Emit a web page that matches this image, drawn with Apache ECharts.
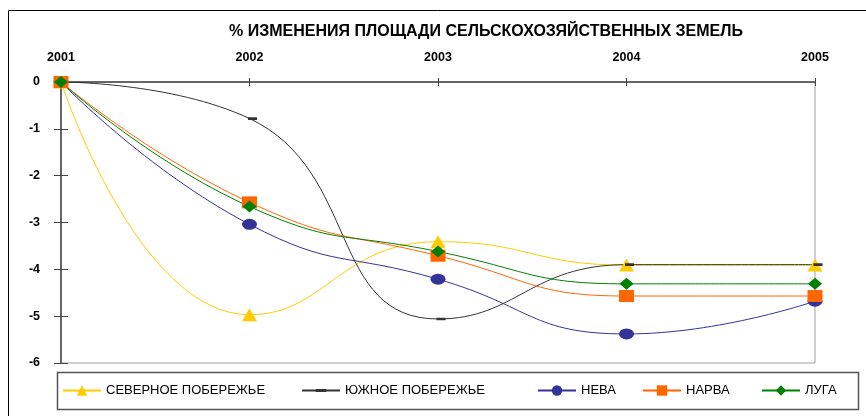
<!DOCTYPE html>
<html><head><meta charset="utf-8">
<script src="https://cdn.jsdelivr.net/npm/echarts@6/dist/echarts.min.js"></script>
<style>html,body{margin:0;padding:0;background:#fff}#c{width:866px;height:416px}</style>
</head><body><div id="c"></div>
<script>
const titleText = '% ИЗМЕНЕНИЯ ПЛОЩАДИ СЕЛЬСКОХОЗЯЙСТВЕННЫХ ЗЕМЕЛЬ';
const years = ['2001', '2002', '2003', '2004', '2005'];
const seriesNames = ['СЕВЕРНОЕ ПОБЕРЕЖЬЕ', 'ЮЖНОЕ ПОБЕРЕЖЬЕ', 'НЕВА', 'НАРВА', 'ЛУГА'];
const severnoe = [0, -4.97, -3.41, -3.91, -3.91];
const yuzhnoe = [0, -0.78, -5.06, -3.9, -3.9];
const neva = [0, -3.04, -4.21, -5.38, -4.68];
const narva = [0, -2.57, -3.71, -4.57, -4.57];
const luga = [0, -2.66, -3.62, -4.31, -4.31];
const yMin = -6, yMax = 0, yStep = 1;

const FONT = 'Liberation Sans, Arial, sans-serif';
const colors = ['#FFCC00', '#333333', '#333399', '#FF6600', '#008000'];
// dash marker: square bounding box with a thin bar in the middle
const dashPath = 'path://M0,0L0.05,0L0.05,0.05Z M0,3.5H10V6.5H0Z M9.95,9.95L10,9.95L10,10Z';
const symbols = ['triangle', dashPath, 'circle', 'rect', 'diamond'];
const symbolSizes = [[15, 13], [9, 9], [15, 11], [15, 12], [14, 12]];
const symbolOffsets = [[0, 0], [3, 0], [0, 0], [0, 0], [0, 0]];
const dataList = [severnoe, yuzhnoe, neva, narva, luga];
const legendLefts = [62, 301, 537, 642, 761];

const chart = echarts.init(document.getElementById('c'), null, {renderer: 'canvas'});

const series = seriesNames.map((n, i) => ({
  name: n, type: 'line', data: dataList[i], smooth: 0.5,
  xAxisIndex: 0, yAxisIndex: 0,
  symbol: symbols[i], symbolSize: symbolSizes[i], symbolOffset: symbolOffsets[i],
  showAllSymbol: true,
  lineStyle: {color: colors[i], width: 1},
  itemStyle: {color: colors[i]},
  emphasis: {disabled: true},
  animation: false
}));

const legends = seriesNames.map((n, i) => ({
  data: [n], left: legendLefts[i], top: 384, padding: 0,
  itemWidth: 38, itemHeight: 13, itemGap: 0,
  textStyle: {fontFamily: FONT, fontSize: 13, color: '#000'},
  selectedMode: false
}));

const baseX = {
  type: 'category', data: years, position: 'top', boundaryGap: false
};
const baseY = {
  type: 'value', min: yMin, max: yMax, interval: yStep, splitLine: {show: false}
};

chart.setOption({
  animation: false,
  title: {
    text: titleText, left: 486, top: 24, padding: 0, textAlign: 'center',
    textStyle: {fontFamily: FONT, fontSize: 16, fontWeight: 'bold', color: '#000'}
  },
  grid: {left: 61, right: 51, top: 82, bottom: 53, show: true, borderColor: '#a0a0a0', borderWidth: 1, backgroundColor: 'transparent'},
  xAxis: [
    Object.assign({}, baseX, {
      axisLine: {show: true, lineStyle: {color: '#444', width: 1.5}},
      axisTick: {show: true, inside: false, length: 4, lineStyle: {color: '#444', width: 1}},
      axisLabel: {margin: 18, fontFamily: FONT, fontSize: 12.5, fontWeight: 'bold', color: '#000'}
    }),
    Object.assign({}, baseX, {
      axisLine: {show: false},
      axisTick: {show: true, inside: true, length: 4, lineStyle: {color: '#444', width: 1}},
      axisLabel: {show: false}
    })
  ],
  yAxis: [
    Object.assign({}, baseY, {
      axisLine: {show: true, lineStyle: {color: '#444', width: 1.5}},
      axisTick: {show: true, inside: false, length: 7, lineStyle: {color: '#444', width: 1}},
      axisLabel: {margin: 21, fontFamily: FONT, fontSize: 12.5, fontWeight: 'bold', color: '#000'}
    }),
    Object.assign({}, baseY, {
      position: 'left',
      axisLine: {show: false},
      axisTick: {show: true, inside: true, length: 7, lineStyle: {color: '#444', width: 1}},
      axisLabel: {show: false}
    })
  ],
  legend: legends,
  graphic: [
    {type: 'rect', silent: true, z: -1, shape: {x: 8.5, y: 10.5, width: 1000, height: 1000}, style: {fill: 'none', stroke: '#000', lineWidth: 1}},
    {type: 'rect', silent: true, z: -1, shape: {x: 57.5, y: 372.5, width: 801, height: 37}, style: {fill: 'none', stroke: '#555', lineWidth: 1.5}}
  ],
  series: series
});
</script></body></html>
